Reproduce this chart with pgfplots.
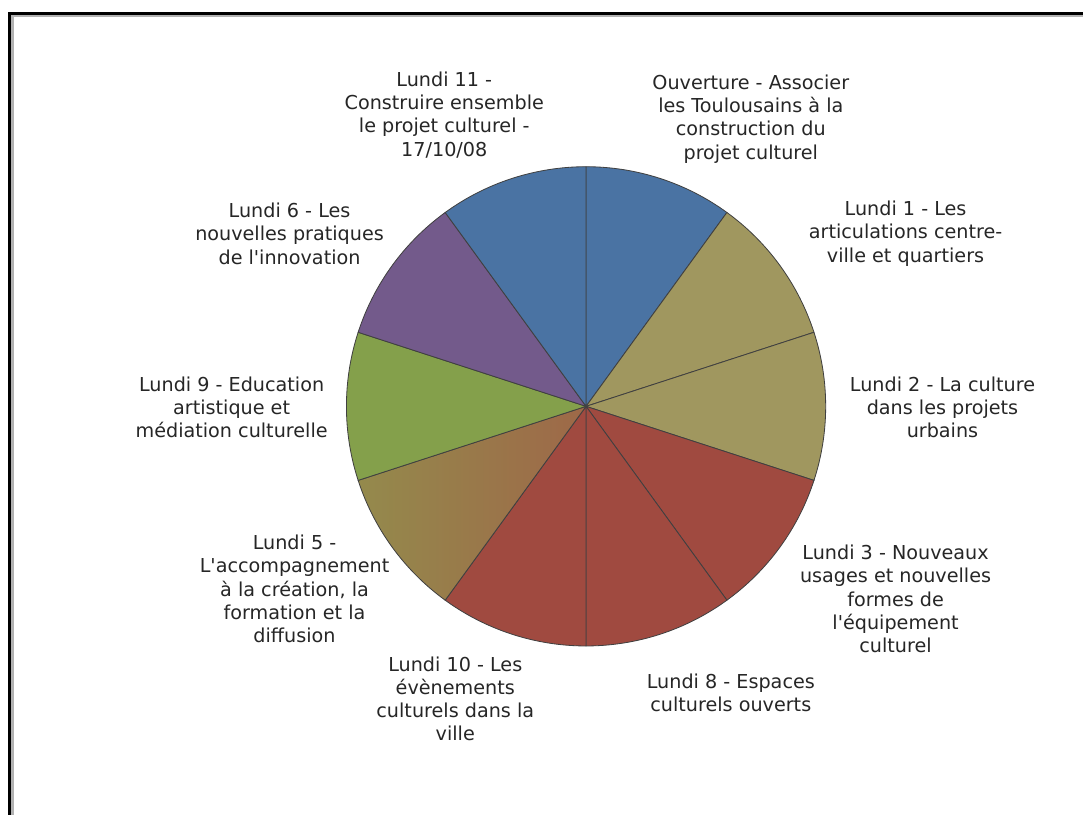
\documentclass[border=0pt]{standalone}
\usepackage{pgfplots}
\usepackage{pgfplotstable}
\pgfplotsset{compat=1.18}
\usepackage{fontspec}
\setmainfont{DejaVu Sans}[Ligatures=TeXOff]

\definecolor{cblue}{HTML}{4A73A3}
\definecolor{colive}{HTML}{A0975F}
\definecolor{cred}{HTML}{A04A40}
\definecolor{cgreen}{HTML}{84A04B}
\definecolor{cpurple}{HTML}{735A8B}
\definecolor{cmixA}{HTML}{948A4C}
\definecolor{cmixB}{HTML}{9E6848}

% one slice per session, clockwise from 12 o'clock
\pgfplotstableread{
value fill
1 cblue
1 colive
1 colive
1 cred
1 cred
1 cred
1 cmix
1 cgreen
1 cpurple
1 cblue
}\piedata

% cumulative angles of the slices
\pgfplotstablegetrowsof{\piedata}
\pgfmathtruncatemacro\lastrow{\pgfplotsretval-1}
\gdef\total{0}
\foreach \i in {0,...,\lastrow}{%
  \pgfplotstablegetelem{\i}{value}\of\piedata
  \pgfmathsetmacro\t{\total+\pgfplotsretval}\xdef\total{\t}}
\gdef\acc{0}
\foreach \i in {0,...,\lastrow}{%
  \pgfplotstablegetelem{\i}{value}\of\piedata \let\v\pgfplotsretval
  \pgfplotstablegetelem{\i}{fill}\of\piedata
  \expandafter\xdef\csname pieC\i\endcsname{\pgfplotsretval}%
  \pgfmathsetmacro\sa{90-\acc*360/\total}%
  \pgfmathsetmacro\na{\acc+\v}\xdef\acc{\na}%
  \pgfmathsetmacro\ea{90-\acc*360/\total}%
  \expandafter\xdef\csname pieS\i\endcsname{\sa}%
  \expandafter\xdef\csname pieE\i\endcsname{\ea}}

\tikzset{
  cmix/.style={left color=cmixA, right color=cmixB},
  cblue/.style={fill=cblue}, colive/.style={fill=colive},
  cred/.style={fill=cred}, cgreen/.style={fill=cgreen},
  cpurple/.style={fill=cpurple},
  lbl/.style={align=center, text=black!85, inner sep=0pt,
    font=\fontsize{8.2}{9.95}\selectfont},
}

\begin{document}
\begin{tikzpicture}
\begin{axis}[
  x=0.015cm, y=0.015cm,
  xmin=0, xmax=1085, ymin=0, ymax=816,
  hide axis, clip=false,
]
  % full page area
  \fill[white] (axis cs:0,0) rectangle (axis cs:1085,816);
  % frame (left and top edges only)
  \draw[line width=0.045cm, black!30] (axis cs:12.5,0) -- (axis cs:12.5,800.5) -- (axis cs:1085,800.5);
  \draw[line width=0.0525cm, black] (axis cs:9.5,0) -- (axis cs:9.5,802.5) -- (axis cs:1085,802.5);

  % slices
  \pgfplotsinvokeforeach{0,...,9}{
    \path[\csname pieC#1\endcsname, draw=black!75, line width=0.35pt]
      (axis cs:587,409) -- ++(\csname pieS#1\endcsname:3.6cm)
      arc[start angle=\csname pieS#1\endcsname, end angle=\csname pieE#1\endcsname, radius=3.6cm]
      -- cycle;
  }

  % labels
  \node[lbl] at (axis cs:752,697) {Ouverture - Associer\\les Toulousains à la\\construction du\\projet culturel};
  \node[lbl] at (axis cs:907,582) {Lundi 1 - Les\\articulations centre-\\ville et quartiers};
  \node[lbl] at (axis cs:944,408) {Lundi 2 - La culture\\dans les projets\\urbains};
  \node[lbl] at (axis cs:897,216) {Lundi 3 - Nouveaux\\usages et nouvelles\\formes de\\l'équipement\\culturel};
  \node[lbl] at (axis cs:732,122) {Lundi 8 - Espaces\\culturels ouverts};
  \node[lbl] at (axis cs:456,116) {Lundi 10 - Les\\évènements\\culturels dans la\\ville};
  \node[lbl] at (axis cs:295,226) {Lundi 5 -\\L'accompagnement\\à la création, la\\formation et la\\diffusion};
  \node[lbl] at (axis cs:232,408) {Lundi 9 - Education\\artistique et\\médiation culturelle};
  \node[lbl] at (axis cs:290,582) {Lundi 6 - Les\\nouvelles pratiques\\de l'innovation};
  \node[lbl] at (axis cs:445,701) {Lundi 11 -\\Construire ensemble\\le projet culturel -\\17/10/08};
\end{axis}
\end{tikzpicture}
\end{document}
